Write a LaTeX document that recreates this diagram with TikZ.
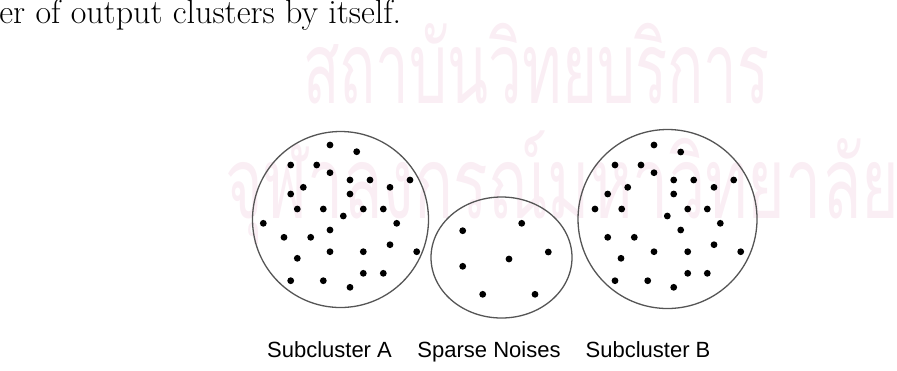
\documentclass[tikz,border=0pt]{standalone}
\usepackage{fontspec}
\newfontfamily\labelfont{Liberation Sans}
\newfontfamily\thaifont[Script=Thai]{Loma}
\usetikzlibrary{shapes.geometric}
\definecolor{watermark}{RGB}{250,238,244}
\definecolor{rimgray}{RGB}{85,85,85}
\tikzset{
  cluster/.style={draw=rimgray, line width=0.65pt, circle, inner sep=0pt},
  noisecloud/.style={draw=rimgray, line width=0.65pt, ellipse, inner sep=0pt},
  caption/.style={font=\labelfont\fontsize{11}{13}\selectfont, anchor=base, inner sep=0pt},
  stamp/.style={font=\thaifont\fontsize{50}{50}\selectfont, text=watermark, inner sep=0pt, xscale=#1, transform shape}
}

\begin{document}
\begin{tikzpicture}[x=0.5pt, y=-0.5pt]
  \useasboundingbox (0,0) rectangle (897,370);

  % faint watermark behind the figure
  \coordinate (wm1) at (770,103);
  \coordinate (wm2) at (225,218);
  \node[stamp=0.6, anchor=base east] (wmtop) at (wm1) {สถาบันวิทยบริการ};
  \node[stamp=0.645, anchor=base west] (wmbot) at (wm2) {จุฬาลงกรณ์มหาวิทยาลัย};

  % end of the running text above
  \node[anchor=base west, inner sep=0pt, font=\fontsize{17}{19}\selectfont] (runon) at (-1,23) {er of output clusters by itself.};

  % the three groups
  \node[cluster, minimum size=88pt] (subA) at (340.5,219.5) {};
  \node[noisecloud, minimum width=70.5pt, minimum height=60.5pt] (noise) at (501.5,257.5) {};
  \node[cluster, minimum size=89.5pt] (subB) at (667.5,219) {};

  % points of subcluster A
  \foreach \x/\y in {330/145, 356.7/151.7, 290.7/165, 316.7/165, 330/172.7,
      350/180, 370/180, 410/180, 303.3/187.3, 390/187.3, 290.7/194, 350/194,
      297.3/209, 323.3/209, 363.3/209, 383.3/209, 343.3/216, 263.3/223.3,
      396.7/223.3, 330/230, 284/237.3, 310.7/237.3, 390/244.7, 330/251.7,
      363.3/251.7, 416.7/251.7, 297.3/258.3, 363.3/273.3, 383.3/273.3,
      290.7/280.7, 323.3/280.7, 350/287.3}
    \fill (\x,\y) circle[radius=1.7pt];

  % sparse noise points
  \foreach \x/\y in {462.7/230.7, 521.7/223.3, 548.3/252, 509/259,
      462.7/266.3, 482.7/294.3, 535/294.3}
    \fill (\x,\y) circle[radius=1.7pt];

  % points of subcluster B
  \foreach \x/\y in {654/145, 680.7/152, 615/165, 641/165, 654/172.7,
      673.7/180, 693.7/180, 733.7/180, 627.7/187.3, 714/187.3, 607.7/194,
      673.7/194, 595/209, 621.7/209, 687.7/209, 707.3/209, 667.3/216,
      720.3/223.3, 680.7/230, 607.7/237.3, 634.3/237.3, 714/244.7,
      654/251.7, 687.7/251.7, 740.7/251.7, 621/258.3, 687.7/273.3,
      707.3/273.3, 615/280.7, 647.7/280.7, 673.7/287.3}
    \fill (\x,\y) circle[radius=1.7pt];

  % captions
  \node[caption] (capA) at (329.5,357) {Subcluster A};
  \node[caption] (capN) at (489,357) {Sparse Noises};
  \node[caption] (capB) at (648,357) {Subcluster B};
\end{tikzpicture}
\end{document}
